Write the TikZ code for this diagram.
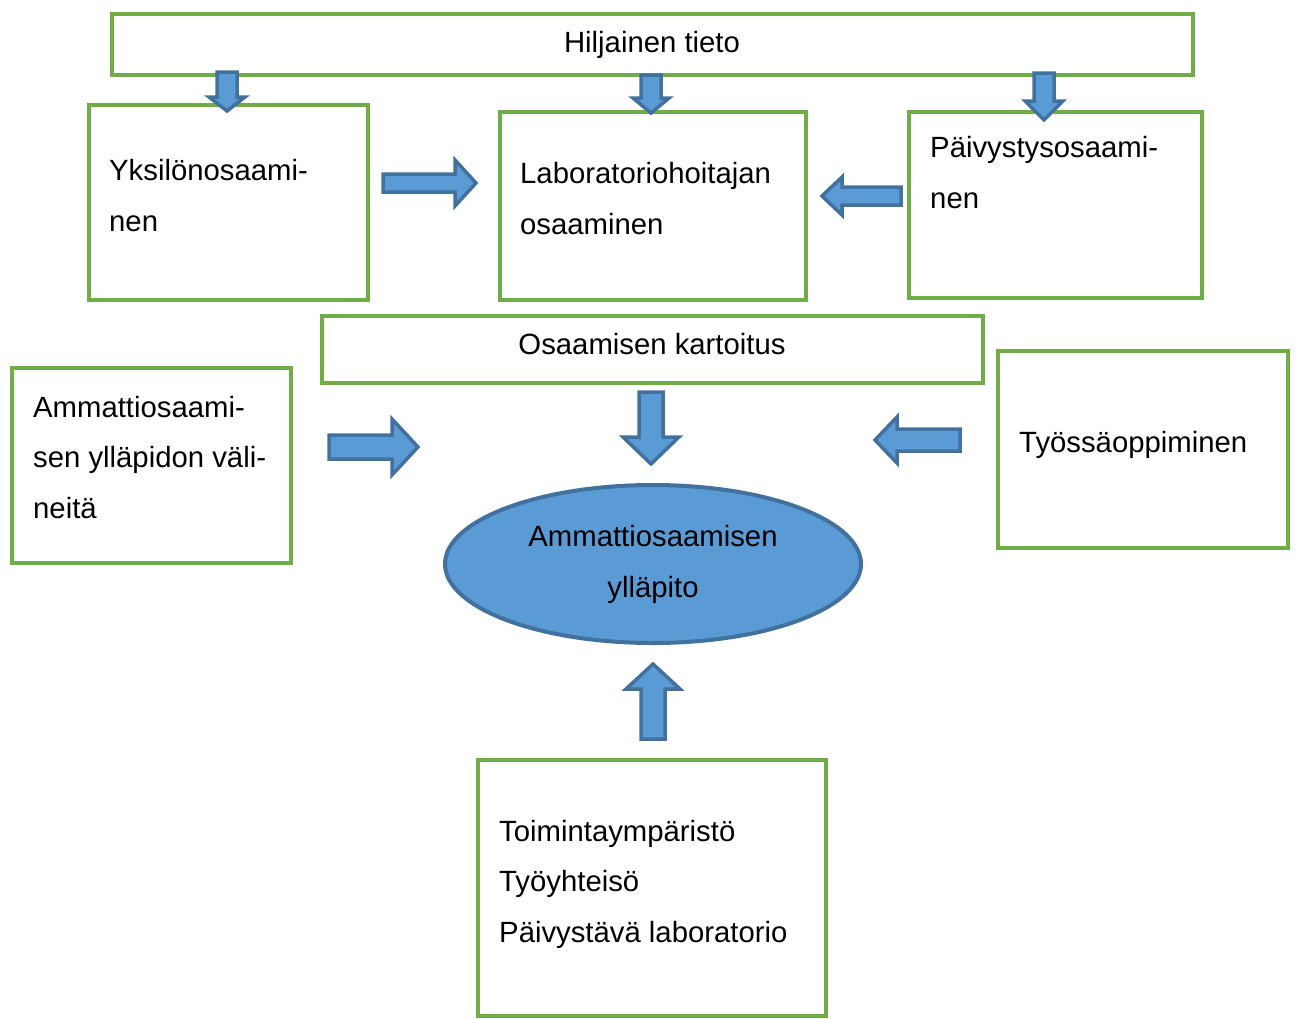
\documentclass[tikz,border=0pt]{standalone}
\usepackage{fontspec}
\setmainfont{Liberation Sans}
\usetikzlibrary{shapes.geometric}
\definecolor{boxgreen}{HTML}{70AD47}
\definecolor{arrfill}{HTML}{5B9BD5}
\definecolor{arrline}{HTML}{41719C}
\tikzset{
  gbox/.style={draw=boxgreen, line width=4pt},
  blockarr/.style={draw=arrline, fill=arrfill, line width=3.5pt, line join=miter},
  txt/.style={inner sep=0pt, anchor=base west, font=\fontsize{29.3}{35}\selectfont},
  ctxt/.style={inner sep=0pt, anchor=base, font=\fontsize{29.3}{35}\selectfont}
}
% vertical block arrow: cx, ystart, yhead, ytip, shaft half width, head half width
\newcommand{\myvarr}[6]{%
  \draw[blockarr] ({#1-#5},#2) -- ({#1+#5},#2) -- ({#1+#5},#3) -- ({#1+#6},#3) -- (#1,#4) -- ({#1-#6},#3) -- ({#1-#5},#3) -- cycle;}
% horizontal block arrow: cy, xstart, xhead, xtip, shaft half width, head half width
\newcommand{\myharr}[6]{%
  \draw[blockarr] (#2,{#1-#5}) -- (#2,{#1+#5}) -- (#3,{#1+#5}) -- (#3,{#1+#6}) -- (#4,#1) -- (#3,{#1-#6}) -- (#3,{#1-#5}) -- cycle;}
\begin{document}
\begin{tikzpicture}[x=1pt,y=-1pt]
\useasboundingbox (0,0) rectangle (1297,1018);
% boxes
\draw[gbox] (112,14) rectangle (1193,75) node[pos=0.5, inner sep=0] (hilj) {};
\draw[gbox] (89,105) rectangle (368,300) node[pos=0.5, inner sep=0] (yks) {};
\draw[gbox] (500,112) rectangle (806,300) node[pos=0.5, inner sep=0] (lab) {};
\draw[gbox] (909,112) rectangle (1202,298) node[pos=0.5, inner sep=0] (paiv) {};
\draw[gbox] (322,316) rectangle (983,383) node[pos=0.5, inner sep=0] (kart) {};
\draw[gbox] (12,368) rectangle (291,563) node[pos=0.5, inner sep=0] (amm) {};
\draw[gbox] (998,351) rectangle (1288,548) node[pos=0.5, inner sep=0] (tyo) {};
\draw[gbox] (478,760) rectangle (826,1016) node[pos=0.5, inner sep=0] (toim) {};
% ellipse
\node[ellipse, draw=arrline, fill=arrfill, line width=4pt, minimum width=416pt, minimum height=158pt, inner sep=0pt] (yllapito) at (653,564) {};
% texts
\node[ctxt] (t-hilj) at (652,52) {Hiljainen tieto};
\node[txt] (t-yks1) at (109,180) {Yksilönosaami-};
\node[txt] (t-yks2) at (109,231) {nen};
\node[txt] (t-lab1) at (520,183) {Laboratoriohoitajan};
\node[txt] (t-lab2) at (520,234) {osaaminen};
\node[txt] (t-paiv1) at (930,157) {Päivystysosaami-};
\node[txt] (t-paiv2) at (930,208) {nen};
\node[ctxt] (t-kart) at (652,354) {Osaamisen kartoitus};
\node[txt] (t-amm1) at (33,417) {Ammattiosaami-};
\node[txt] (t-amm2) at (33,467) {sen ylläpidon väli-};
\node[txt] (t-amm3) at (33,518) {neitä};
\node[txt] (t-tyo) at (1019,452) {Työssäoppiminen};
\node[ctxt] (t-yl1) at (653,546) {Ammattiosaamisen};
\node[ctxt] (t-yl2) at (653,597) {ylläpito};
\node[txt] (t-toim1) at (499,841) {Toimintaympäristö};
\node[txt] (t-toim2) at (499,891) {Työyhteisö};
\node[txt] (t-toim3) at (499,942) {Päivystävä laboratorio};
% block arrows
\myvarr{227}{72}{97}{111}{10}{18}
\myvarr{651}{75}{98}{113}{10}{18}
\myvarr{1044}{73}{101}{120}{10}{19}
\myharr{183}{383}{455}{476}{9}{23}
\myharr{196}{901}{842}{822}{9}{19}
\myvarr{651}{392}{437}{464}{12}{28}
\myharr{447}{329}{392}{418}{12}{28}
\myharr{440}{960}{897}{875}{11}{23}
\myvarr{653}{739}{689}{664}{12}{27}
\end{tikzpicture}
\end{document}
